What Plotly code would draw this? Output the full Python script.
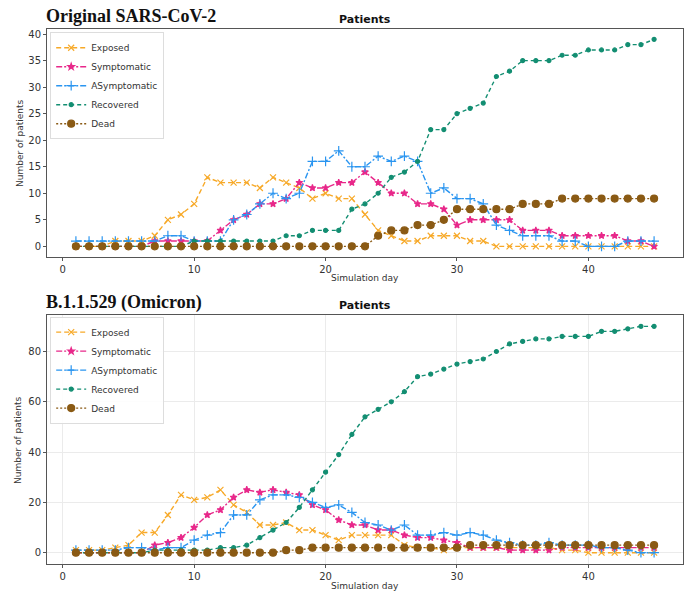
import plotly.graph_objects as go

days = list(range(1, 46))

# Original SARS-CoV-2
orig_exposed = [0,0,0,1,1,1,2,5,6,8,13,12,12,12,11,13,12,11,9,10,9,9,6,3,2,1,1,2,2,2,1,1,0,0,0,0,0,0,0,0,0,0,0,0,0]
orig_symptomatic = [0,0,0,0,0,0,1,1,1,1,1,3,5,6,8,8,9,12,11,11,12,12,14,12,10,10,8,8,7,4,5,5,5,5,3,3,3,2,2,2,2,2,1,1,0]
orig_asymptomatic = [1,1,1,1,1,1,1,2,2,1,1,1,5,6,8,10,9,10,16,16,18,15,15,17,16,17,16,10,11,9,9,8,4,3,2,2,2,1,1,0,0,0,1,1,1]
orig_recovered = [0,0,0,0,0,0,0,0,0,1,1,1,1,1,1,1,2,2,3,3,3,7,8,10,13,14,16,22,22,25,26,27,32,33,35,35,35,36,36,37,37,37,38,38,39]
orig_dead = [0]*23 + [2,3,3,4,4,5,7,7,7,7,7,8,8,8,9,9,9,9,9,9,9,9]

# B.1.1.529 (Omicron)
omi_exposed = [1,1,1,2,3,8,8,15,23,21,22,25,19,16,11,11,12,9,9,7,5,7,7,7,7,3,2,2,1,2,2,2,2,2,2,2,2,1,1,0,0,0,0,0,0]
omi_symptomatic = [0,0,0,0,0,0,3,4,6,10,15,17,22,25,24,25,24,23,19,17,13,11,11,9,9,7,6,6,5,4,2,2,2,1,1,1,1,2,2,2,2,2,2,2,2]
omi_asymptomatic = [1,1,1,1,2,2,1,2,2,5,7,8,15,15,21,23,23,22,20,18,19,16,12,11,9,11,7,7,8,7,8,7,5,4,3,3,4,3,3,3,2,2,1,0,0]
omi_recovered = [0,0,0,0,0,0,1,1,1,1,1,2,2,3,6,9,12,18,25,32,39,47,54,57,60,64,70,71,73,75,76,77,80,83,84,85,85,86,86,86,88,88,89,90,90]
omi_dead = [0]*16 + [1,1] + [2]*12 + [3]*15

series_names = ["Exposed", "Symptomatic", "ASymptomatic", "Recovered", "Dead"]
colors = ["#F7A928", "#E8288A", "#2A95F0", "#138E72", "#8A5A14"]
dashes = ["5px,3px", "6px,2px,2px,2px", "6px,2px,2px,2px", "4px,3px", "2px,2px"]
symbols = ["x-thin-open", "star", "cross-thin-open", "circle", "circle"]
sizes = [6, 5, 7, 4, 7]

fig = go.Figure()

def add_panel(data, xa, ya, legend):
    for name, vals, c, d, s, sz in zip(series_names, data, colors, dashes, symbols, sizes):
        fig.add_trace(go.Scatter(
            x=days, y=vals, name=name, mode="lines+markers",
            line=dict(color=c, width=1.4, dash=d),
            marker=dict(symbol=s, size=sz, color=c, line=dict(color=c, width=1.2)),
            xaxis=xa, yaxis=ya, legend=legend))

add_panel([orig_exposed, orig_symptomatic, orig_asymptomatic, orig_recovered, orig_dead], "x", "y", "legend")
add_panel([omi_exposed, omi_symptomatic, omi_asymptomatic, omi_recovered, omi_dead], "x2", "y2", "legend2")

axis_common = dict(showline=True, mirror=True, linecolor="#555555", linewidth=1,
                   ticks="outside", ticklen=3, tickcolor="#555555",
                   tickfont=dict(family="DejaVu Sans", size=10, color="#333333"),
                   zeroline=False)

legend_style = dict(xref="paper", yref="paper", xanchor="left", yanchor="top",
                    bgcolor="rgba(255,255,255,0.9)", bordercolor="#DDDDDD", borderwidth=1,
                    font=dict(family="DejaVu Sans", size=9, color="#333333"),
                    tracegroupgap=0, itemwidth=30)

fig.update_layout(
    width=691, height=594,
    margin=dict(l=47, r=8, t=29, b=30),
    plot_bgcolor="white", paper_bgcolor="white",
    font=dict(family="DejaVu Sans", size=10, color="#333333"),
    xaxis=dict(domain=[0, 1], anchor="y", range=[-1.2, 47.2], tickvals=[0, 10, 20, 30, 40],
               showgrid=False, **axis_common),
    yaxis=dict(domain=[0.5744, 1], anchor="x", range=[-1.95, 40.95], tickvals=list(range(0, 41, 5)),
               showgrid=False, **axis_common),
    xaxis2=dict(domain=[0, 1], anchor="y2", range=[-1.2, 47.2], tickvals=[0, 10, 20, 30, 40],
                showgrid=True, gridcolor="#EBEBEB", **axis_common),
    yaxis2=dict(domain=[0, 0.4654], anchor="x2", range=[-4.5, 94.5], tickvals=[0, 20, 40, 60, 80],
                showgrid=True, gridcolor="#EBEBEB", **axis_common),
    legend=dict(x=0.005, y=0.994, **legend_style),
    legend2=dict(x=0.005, y=0.4624, **legend_style),
    showlegend=True,
)

plot_w = 691 - 47 - 8
plot_h = 594 - 29 - 30
def px(xp):
    return (xp - 47) / plot_w
def py(yp):
    return (594 - 30 - yp) / plot_h

def note(text, x, y, size, family="DejaVu Sans", color="#333333", angle=0, anchor="center"):
    fig.add_annotation(text=text, x=px(x), y=py(y), xref="paper", yref="paper",
                       xanchor=anchor, yanchor="middle", showarrow=False, textangle=angle,
                       font=dict(family=family, size=size, color=color))

note("<b>Original SARS-CoV-2</b>", 44, 16, 18, "Liberation Serif", "#111111", anchor="left")
note("<b>B.1.1.529 (Omicron)</b>", 44, 302, 18, "Liberation Serif", "#111111", anchor="left")
note("<b>Patients</b>", 365, 19, 11, color="#111111")
note("<b>Patients</b>", 365, 305, 11, color="#111111")
note("Simulation day", 365, 278, 9)
note("Simulation day", 365, 586, 9)
note("Number of patients", 20, 143, 9, angle=-90)
note("Number of patients", 18, 440, 9, angle=-90)

fig.write_html("out.html", config={"displayModeBar": False},
               post_script="document.body.style.margin='0';")
